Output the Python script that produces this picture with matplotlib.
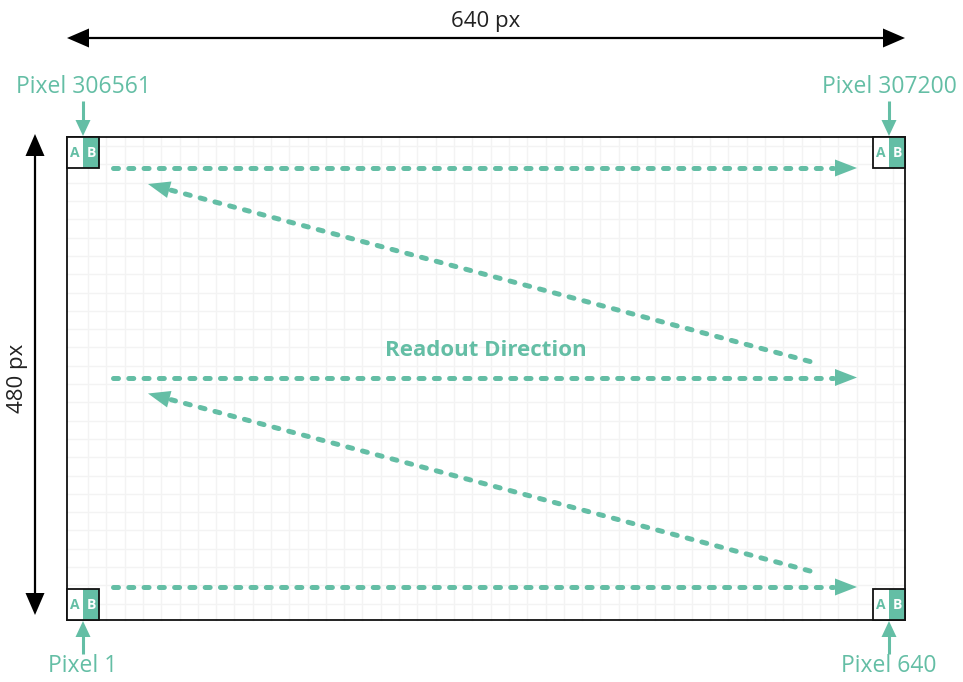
import numpy as np
import matplotlib.pyplot as plt
from matplotlib.patches import Rectangle, Polygon

# sensor description
sensor_width_px = 640
sensor_height_px = 480
corner_pixel_labels = ["Pixel 306561", "Pixel 307200", "Pixel 1", "Pixel 640"]
subpixel_names = ["A", "B"]
readout_title = "Readout Direction"
readout_rows = 3

TEAL = "#64bea5"
FONT = "Open Sans"
plt.rcParams["lines.scale_dashes"] = False

W, H = 963, 682
fig = plt.figure(figsize=(W / 100, H / 100), dpi=100)
ax = fig.add_axes([0, 0, 1, 1])
ax.set_xlim(0, W)
ax.set_ylim(H, 0)
ax.axis("off")

# frame of the sensor in figure pixels
left, right, top, bottom = 67, 905, 137, 620
cell = 18.3


def head(tip, tail, length, width, color):
    tip = np.array(tip, float)
    d = tip - np.array(tail, float)
    d /= np.hypot(*d)
    n = np.array([-d[1], d[0]])
    base = tip - d * length
    pts = [tip, base + n * width / 2, base - n * width / 2]
    ax.add_patch(Polygon(pts, closed=True, color=color, lw=0, zorder=5))


def dashed_arrow(start, tip):
    start = np.array(start, float)
    tip = np.array(tip, float)
    d = tip - start
    d /= np.hypot(*d)
    end = tip - d * 24
    ax.plot([start[0], end[0]], [start[1], end[1]], color=TEAL, lw=3.6,
            dashes=(3.6, 7.4), dash_capstyle="round", zorder=4)
    head(tip, start, 22, 17, TEAL)


def black_arrow(p0, p1):
    p0 = np.array(p0, float)
    p1 = np.array(p1, float)
    d = (p1 - p0) / np.hypot(*(p1 - p0))
    a = p0 + d * 20
    b = p1 - d * 20
    ax.plot([a[0], b[0]], [a[1], b[1]], color="black", lw=1.6, zorder=3)
    head(p1, p0, 22, 19, "black")
    head(p0, p1, 22, 19, "black")


# grid inside the sensor
for gx in np.arange(left + 21, right, cell):
    ax.plot([gx, gx], [top, bottom], color="#f3f3f3", lw=1.0, zorder=1)
for gy in np.arange(top + cell / 2, bottom, cell):
    ax.plot([left, right], [gy, gy], color="#f3f3f3", lw=1.0, zorder=1)

ax.add_patch(Rectangle((left, top), right - left, bottom - top, fill=False,
                       ec="#111111", lw=1.3, zorder=6))

# dimension arrows
black_arrow((left, 38), (right, 38))
ax.text((left + right) / 2, 22, f"{sensor_width_px} px", ha="center", va="center",
        fontsize=16, family=FONT, color="#222222")
black_arrow((35, top - 3), (35, bottom - 5))
ax.text(17, 378, f"{sensor_height_px} px", ha="center", va="center", rotation=90,
        fontsize=16, family=FONT, color="#222222")

# corner pixels with their labels
box = 32
corners = [(left, top, "top"), (right - box, top, "top"),
           (left, bottom - box + 1, "bottom"), (right - box, bottom - box + 1, "bottom")]
for (bx, by, side), label in zip(corners, corner_pixel_labels):
    ax.add_patch(Rectangle((bx, by), box / 2, box - 1, fc="white", ec="none", zorder=6))
    ax.add_patch(Rectangle((bx + box / 2, by), box / 2, box - 1, fc=TEAL, ec="none", zorder=6))
    ax.add_patch(Rectangle((bx, by), box, box - 1, fill=False, ec="#111111", lw=1.3, zorder=7))
    ax.text(bx + box / 4, by + box / 2, subpixel_names[0], ha="center", va="center",
            fontsize=10, weight="bold", family=FONT, color=TEAL, zorder=8)
    ax.text(bx + 3 * box / 4, by + box / 2, subpixel_names[1], ha="center", va="center",
            fontsize=10, weight="bold", family=FONT, color="white", zorder=8)
    cx = bx + box / 2
    if side == "top":
        ax.plot([cx, cx], [101, 122], color=TEAL, lw=2.2, solid_capstyle="butt")
        head((cx, 136), (cx, 100), 16, 15, TEAL)
        ax.text(cx, 87, label, ha="center", va="center", fontsize=16.5,
                family=FONT, color=TEAL)
    else:
        ax.plot([cx, cx], [654, 634], color=TEAL, lw=2.2, solid_capstyle="butt")
        head((cx, 621), (cx, 654), 16, 15, TEAL)
        ax.text(cx, 666, label, ha="center", va="center", fontsize=16.5,
                family=FONT, color=TEAL)

# readout path
row_ys = np.linspace(168, 587, readout_rows)
for i, ry in enumerate(row_ys):
    dashed_arrow((113, ry), (857, ry))
    if i < readout_rows - 1:
        dashed_arrow((810, row_ys[i + 1] - 16), (148, ry + 16))

ax.text((left + right) / 2, 351, readout_title, ha="center", va="center",
        fontsize=16, weight="bold", family=FONT, color=TEAL, zorder=6)

fig.savefig("out.png", dpi=100)
